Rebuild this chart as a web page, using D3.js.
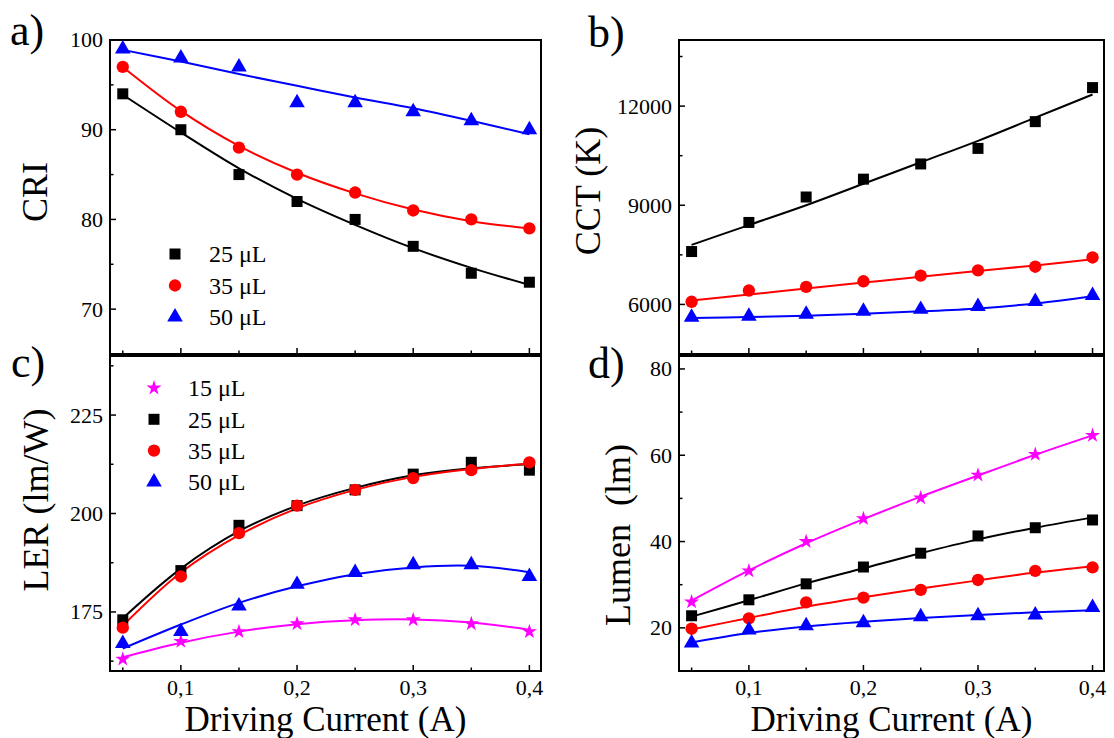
<!DOCTYPE html>
<html>
<head>
<meta charset="utf-8">
<script src="https://cdn.jsdelivr.net/npm/d3@7"></script>
</head>
<body style="margin:0; background:#fff">
<div id="chart"></div>
<script>
// driving current (A)
var current = [0.05, 0.1, 0.15, 0.2, 0.25, 0.3, 0.35, 0.4];

// a) CRI
var criPts25 = [94, 90, 85, 82, 80, 77, 74, 73];
var criPts35 = [97, 92, 88, 85, 83, 81, 80, 79];
var criPts50 = [99, 98, 97, 93, 93, 92, 91, 90];
var criFit25 = [93.9, 89.7, 85.7, 82.3, 79.4, 76.8, 74.6, 72.7];
var criFit35 = [97, 92.1, 88.2, 85.2, 82.9, 81.1, 79.8, 79];
var criFit50 = [98.9, 97.6, 96.2, 94.9, 93.6, 92.4, 91, 89.5];

// b) CCT
var cctPts25 = [7600, 8480, 9250, 9790, 10250, 10720, 11530, 12560];
var cctPts35 = [6080, 6420, 6530, 6700, 6870, 7030, 7140, 7420];
var cctPts50 = [5610, 5640, 5700, 5790, 5850, 5940, 6090, 6270];
var cctFit25 = [7800, 8400, 9000, 9650, 10300, 10950, 11650, 12350];
var cctFit35 = [6120, 6300, 6480, 6660, 6840, 7010, 7180, 7370];
var cctFit50 = [5590, 5620, 5660, 5720, 5790, 5880, 6030, 6250];

// c) LER
var lerPts15 = [163, 167.5, 170, 172, 173, 173, 172, 170];
var lerPts25 = [173, 185.5, 197, 202, 206, 210, 213, 211];
var lerPts35 = [171, 184, 195, 202, 206, 209, 211, 213];
var lerPts50 = [167, 170, 176.5, 182, 185, 187, 187, 184];
var lerFit15 = [163.5, 167.2, 170, 171.9, 172.9, 173.1, 172.3, 170.5];
var lerFit25 = [173.4, 186, 195.5, 202, 206.5, 209.7, 211.5, 212.5];
var lerFit35 = [171.5, 185, 194.5, 201.3, 206, 209.3, 211.3, 212.7];
var lerFit50 = [165.7, 171.8, 177.3, 181.5, 184.6, 186.3, 186.7, 185.1];

// d) Lumen
var lumPts15 = [26, 33.2, 40, 45.3, 50.1, 55.4, 60.2, 64.6];
var lumPts25 = [22.8, 26.5, 30.2, 34.1, 37.3, 41.3, 43.2, 45];
var lumPts35 = [19.8, 22.2, 25.9, 27, 28.8, 31.1, 33.2, 34];
var lumPts50 = [16.5, 19.5, 20.5, 21.2, 22.6, 22.8, 23, 24.7];
var lumFit15 = [26.3, 33.3, 39.6, 45.2, 50.4, 55.3, 60.1, 64.6];
var lumFit25 = [22.6, 26.4, 30.3, 33.8, 37.3, 40.5, 43.2, 45.6];
var lumFit35 = [19.6, 22.3, 24.9, 27.1, 29.1, 31, 32.8, 34.3];
var lumFit50 = [16.6, 18.8, 20.3, 21.4, 22.3, 23, 23.6, 24.1];

var legendNames = ["15 \u03bcL", "25 \u03bcL", "35 \u03bcL", "50 \u03bcL"];
var xMajor = [0.1, 0.2, 0.3, 0.4];
var xMinor = [0.05, 0.15, 0.25, 0.35];

var sty = {
  s15: {color: "#ff00ff", sym: d3.symbolStar, size: 70},
  s25: {color: "#000000", sym: d3.symbolSquare, size: 121},
  s35: {color: "#ff0000", sym: d3.symbolCircle, size: 120},
  s50: {color: "#0000ff", sym: d3.symbolTriangle, size: 105}
};

var FONT = "Liberation Serif";
var W = 1114, H = 738;
var svg = d3.select("#chart").append("svg").attr("width", W).attr("height", H);

function txt(sel, size) {
  return sel.style("font-family", FONT).style("font-size", size + "px").attr("fill", "#000");
}

function panel(cfg) {
  var x = d3.scaleLinear().domain([0.039, 0.41]).range([cfg.left, cfg.right]);
  var y = d3.scaleLinear().domain(cfg.yDomain).range([cfg.bottom, cfg.top]);
  var g = svg.append("g");

  // y ticks (inward)
  g.selectAll(".ymaj").data(cfg.yMajor).enter().append("line")
    .attr("x1", cfg.left).attr("x2", cfg.left + 6)
    .attr("y1", function(d) { return y(d); }).attr("y2", function(d) { return y(d); })
    .attr("stroke", "#000").attr("stroke-width", 1.5);
  g.selectAll(".ymin").data(cfg.yMinor).enter().append("line")
    .attr("x1", cfg.left).attr("x2", cfg.left + 3.5)
    .attr("y1", function(d) { return y(d); }).attr("y2", function(d) { return y(d); })
    .attr("stroke", "#000").attr("stroke-width", 1.5);
  txt(g.selectAll(".ylab").data(cfg.yMajor).enter().append("text")
    .attr("x", cfg.left - 7).attr("y", function(d) { return y(d); })
    .attr("dy", "0.34em").attr("text-anchor", "end"), 22)
    .text(function(d) { return d; });

  // x ticks (inward)
  g.selectAll(".xmaj").data(xMajor).enter().append("line")
    .attr("x1", function(d) { return x(d); }).attr("x2", function(d) { return x(d); })
    .attr("y1", cfg.bottom).attr("y2", cfg.bottom - 6)
    .attr("stroke", "#000").attr("stroke-width", 1.5);
  g.selectAll(".xmin").data(xMinor).enter().append("line")
    .attr("x1", function(d) { return x(d); }).attr("x2", function(d) { return x(d); })
    .attr("y1", cfg.bottom).attr("y2", cfg.bottom - 3.5)
    .attr("stroke", "#000").attr("stroke-width", 1.5);
  if (cfg.xLabels) {
    txt(g.selectAll(".xlab").data(xMajor).enter().append("text")
      .attr("x", function(d) { return x(d); }).attr("y", cfg.bottom + 24)
      .attr("text-anchor", "middle"), 22)
      .text(function(d) { return String(d).replace(".", ","); });
    txt(g.append("text")
      .attr("x", (cfg.left + cfg.right) / 2).attr("y", cfg.bottom + 60)
      .attr("text-anchor", "middle"), 35)
      .text("Driving Current (A)");
  }

  // frame
  g.append("rect")
    .attr("x", cfg.left).attr("y", cfg.top)
    .attr("width", cfg.right - cfg.left).attr("height", cfg.bottom - cfg.top)
    .attr("fill", "none").attr("stroke", "#000").attr("stroke-width", 2);

  // fit lines then points
  var line = d3.line()
    .x(function(d, i) { return x(current[i]); })
    .y(function(d) { return y(d); })
    .curve(d3.curveCatmullRom.alpha(0.5));

  cfg.series.forEach(function(s) {
    g.append("path").datum(s.fit)
      .attr("d", line).attr("fill", "none")
      .attr("stroke", s.st.color).attr("stroke-width", 2);
  });
  cfg.series.forEach(function(s) {
    var sym = d3.symbol().type(s.st.sym).size(s.st.size);
    g.selectAll(null).data(s.pts).enter().append("path")
      .attr("d", sym)
      .attr("transform", function(d, i) { return "translate(" + x(current[i]) + "," + y(d) + ")"; })
      .attr("fill", s.st.color);
  });

  // axis title
  txt(svg.append("text")
    .attr("transform", "translate(" + cfg.titleX + "," + cfg.titleY + ") rotate(-90)")
    .attr("text-anchor", "middle").attr("xml:space", "preserve"), 36)
    .style("white-space", "pre")
    .text(cfg.title);

  // panel letter
  txt(svg.append("text").attr("x", cfg.tagX).attr("y", cfg.tagY), 44).text(cfg.tag);

  // legend
  if (cfg.legend) {
    cfg.legend.items.forEach(function(it, k) {
      var ly = cfg.legend.y + k * cfg.legend.step;
      svg.append("path")
        .attr("d", d3.symbol().type(it.st.sym).size(it.st.size)())
        .attr("transform", "translate(" + cfg.legend.x + "," + ly + ")")
        .attr("fill", it.st.color);
      txt(svg.append("text")
        .attr("x", cfg.legend.x + 34).attr("y", ly)
        .attr("dy", "0.35em"), 24)
        .text(it.name);
    });
  }
}

panel({
  left: 110, right: 541, top: 40, bottom: 354,
  yDomain: [65, 100], yMajor: [70, 80, 90, 100], yMinor: [75, 85, 95],
  title: "CRI", titleX: 47, titleY: 192, tag: "a)", tagX: 10, tagY: 45,
  series: [
    {pts: criPts25, fit: criFit25, st: sty.s25},
    {pts: criPts35, fit: criFit35, st: sty.s35},
    {pts: criPts50, fit: criFit50, st: sty.s50}
  ],
  legend: {x: 175, y: 254, step: 31.5, items: [
    {name: legendNames[1], st: sty.s25},
    {name: legendNames[2], st: sty.s35},
    {name: legendNames[3], st: sty.s50}
  ]}
});

panel({
  left: 679, right: 1104, top: 40, bottom: 354,
  yDomain: [4500, 14000], yMajor: [6000, 9000, 12000], yMinor: [7500, 10500, 13500],
  title: "CCT (K)", titleX: 600, titleY: 191, tag: "b)", tagX: 588, tagY: 47,
  series: [
    {pts: cctPts25, fit: cctFit25, st: sty.s25},
    {pts: cctPts35, fit: cctFit35, st: sty.s35},
    {pts: cctPts50, fit: cctFit50, st: sty.s50}
  ]
});

panel({
  left: 110, right: 541, top: 356, bottom: 671, xLabels: true,
  yDomain: [160, 240], yMajor: [175, 200, 225], yMinor: [162.5, 187.5, 212.5, 237.5],
  title: "LER (lm/W)", titleX: 48, titleY: 500, tag: "c)", tagX: 11, tagY: 377,
  series: [
    {pts: lerPts15, fit: lerFit15, st: sty.s15},
    {pts: lerPts25, fit: lerFit25, st: sty.s25},
    {pts: lerPts35, fit: lerFit35, st: sty.s35},
    {pts: lerPts50, fit: lerFit50, st: sty.s50}
  ],
  legend: {x: 154, y: 388, step: 31.3, items: [
    {name: legendNames[0], st: sty.s15},
    {name: legendNames[1], st: sty.s25},
    {name: legendNames[2], st: sty.s35},
    {name: legendNames[3], st: sty.s50}
  ]}
});

panel({
  left: 679, right: 1104, top: 356, bottom: 671, xLabels: true,
  yDomain: [10, 83], yMajor: [20, 40, 60, 80], yMinor: [30, 50, 70],
  title: "Lumen  (lm)", titleX: 630, titleY: 535, tag: "d)", tagX: 588, tagY: 378,
  series: [
    {pts: lumPts15, fit: lumFit15, st: sty.s15},
    {pts: lumPts25, fit: lumFit25, st: sty.s25},
    {pts: lumPts35, fit: lumFit35, st: sty.s35},
    {pts: lumPts50, fit: lumFit50, st: sty.s50}
  ]
});
</script>
</body>
</html>
